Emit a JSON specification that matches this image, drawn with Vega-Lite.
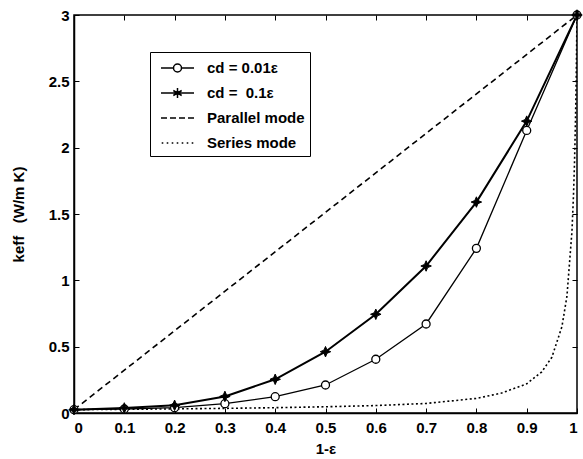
{
  "$schema": "https://vega.github.io/schema/vega-lite/v6.json",
  "width": 503,
  "height": 398,
  "autosize": {"type": "none"},
  "padding": {"left": 74, "top": 15, "right": 6, "bottom": 46},
  "background": "white",
  "config": {
    "font": "Liberation Sans",
    "view": {"stroke": "black", "strokeWidth": 1.5},
    "axis": {
      "domainColor": "black", "domainWidth": 1.5, "tickColor": "black", "tickWidth": 1,
      "labelColor": "black", "labelFont": "Liberation Sans", "labelFontSize": 15, "labelFontWeight": "bold",
      "titleColor": "black", "titleFont": "Liberation Sans", "titleFontSize": 15, "titleFontWeight": "bold",
      "grid": false
    }
  },
  "datasets": {
    "d": [
      {"series": "cd = 0.01ε", "x": 0, "k": 0.025},
      {"series": "cd = 0.01ε", "x": 0.1, "k": 0.03},
      {"series": "cd = 0.01ε", "x": 0.2, "k": 0.04},
      {"series": "cd = 0.01ε", "x": 0.3, "k": 0.07},
      {"series": "cd = 0.01ε", "x": 0.4, "k": 0.123},
      {"series": "cd = 0.01ε", "x": 0.5, "k": 0.211},
      {"series": "cd = 0.01ε", "x": 0.6, "k": 0.405},
      {"series": "cd = 0.01ε", "x": 0.7, "k": 0.671},
      {"series": "cd = 0.01ε", "x": 0.8, "k": 1.241},
      {"series": "cd = 0.01ε", "x": 0.9, "k": 2.13},
      {"series": "cd = 0.01ε", "x": 1, "k": 3.0},
      {"series": "cd =  0.1ε", "x": 0, "k": 0.025},
      {"series": "cd =  0.1ε", "x": 0.1, "k": 0.038},
      {"series": "cd =  0.1ε", "x": 0.2, "k": 0.058},
      {"series": "cd =  0.1ε", "x": 0.3, "k": 0.125},
      {"series": "cd =  0.1ε", "x": 0.4, "k": 0.254},
      {"series": "cd =  0.1ε", "x": 0.5, "k": 0.462},
      {"series": "cd =  0.1ε", "x": 0.6, "k": 0.744},
      {"series": "cd =  0.1ε", "x": 0.7, "k": 1.108},
      {"series": "cd =  0.1ε", "x": 0.8, "k": 1.59},
      {"series": "cd =  0.1ε", "x": 0.9, "k": 2.2},
      {"series": "cd =  0.1ε", "x": 1, "k": 3.0},
      {"series": "Parallel mode", "x": 0, "k": 0.025},
      {"series": "Parallel mode", "x": 1, "k": 3.0},
      {"series": "Series mode", "x": 0, "k": 0.025},
      {"series": "Series mode", "x": 0.1, "k": 0.028},
      {"series": "Series mode", "x": 0.2, "k": 0.031},
      {"series": "Series mode", "x": 0.3, "k": 0.035},
      {"series": "Series mode", "x": 0.4, "k": 0.04},
      {"series": "Series mode", "x": 0.5, "k": 0.047},
      {"series": "Series mode", "x": 0.6, "k": 0.056},
      {"series": "Series mode", "x": 0.7, "k": 0.072},
      {"series": "Series mode", "x": 0.8, "k": 0.11},
      {"series": "Series mode", "x": 0.85, "k": 0.15},
      {"series": "Series mode", "x": 0.9, "k": 0.22},
      {"series": "Series mode", "x": 0.93, "k": 0.31},
      {"series": "Series mode", "x": 0.95, "k": 0.42},
      {"series": "Series mode", "x": 0.97, "k": 0.65},
      {"series": "Series mode", "x": 0.98, "k": 0.88},
      {"series": "Series mode", "x": 0.99, "k": 1.37},
      {"series": "Series mode", "x": 0.993, "k": 1.64},
      {"series": "Series mode", "x": 0.995, "k": 1.88},
      {"series": "Series mode", "x": 0.997, "k": 2.21},
      {"series": "Series mode", "x": 0.998, "k": 2.42},
      {"series": "Series mode", "x": 0.999, "k": 2.68},
      {"series": "Series mode", "x": 1, "k": 3.0}
    ]
  },
  "resolve": {"axis": {"x": "independent", "y": "independent"}},
  "layer": [
    {
      "data": {"name": "d"},
      "transform": [{"filter": "datum.series === 'Parallel mode'"}],
      "mark": {"type": "line", "color": "black", "strokeWidth": 1.6, "strokeDash": [6, 4], "clip": true},
      "encoding": {
        "x": {
          "field": "x", "type": "quantitative",
          "scale": {"domain": [0, 1], "nice": false, "zero": false},
          "axis": {"values": [0, 0.1, 0.2, 0.3, 0.4, 0.5, 0.6, 0.7, 0.8, 0.9, 1], "format": "~g", "tickSize": -5, "labelPadding": 12, "title": "1-ε", "titlePadding": 6}
        },
        "y": {
          "field": "k", "type": "quantitative",
          "scale": {"domain": [0, 3], "nice": false},
          "axis": {"values": [0, 0.5, 1, 1.5, 2, 2.5, 3], "format": "~g", "tickSize": -5, "labelPadding": 10, "title": "keff\u00a0\u00a0\u00a0(W/m K)", "titlePadding": 22}
        }
      }
    },
    {
      "data": {"name": "d"},
      "transform": [{"filter": "datum.series === 'Series mode'"}],
      "mark": {"type": "line", "color": "black", "strokeWidth": 1.6, "strokeDash": [2, 2.5], "clip": true},
      "encoding": {
        "x": {"field": "x", "type": "quantitative", "axis": null},
        "y": {"field": "k", "type": "quantitative", "axis": null}
      }
    },
    {
      "data": {"name": "d"},
      "transform": [{"filter": "datum.series === 'cd = 0.01ε'"}],
      "mark": {"type": "line", "color": "black", "strokeWidth": 1.3, "clip": true},
      "encoding": {
        "x": {"field": "x", "type": "quantitative", "axis": null},
        "y": {"field": "k", "type": "quantitative", "axis": null}
      }
    },
    {
      "data": {"name": "d"},
      "transform": [{"filter": "datum.series === 'cd =  0.1ε'"}],
      "mark": {"type": "line", "color": "black", "strokeWidth": 2, "clip": true},
      "encoding": {
        "x": {"field": "x", "type": "quantitative", "axis": null},
        "y": {"field": "k", "type": "quantitative", "axis": null}
      }
    },
    {
      "data": {"name": "d"},
      "transform": [{"filter": "datum.series === 'cd = 0.01ε'"}],
      "mark": {"type": "point", "shape": "circle", "size": 64, "filled": true, "fill": "white", "stroke": "black", "strokeWidth": 1.3, "opacity": 1},
      "encoding": {
        "x": {"field": "x", "type": "quantitative", "axis": null},
        "y": {"field": "k", "type": "quantitative", "axis": null}
      }
    },
    {
      "data": {"name": "d"},
      "transform": [{"filter": "datum.series === 'cd =  0.1ε'"}],
      "mark": {"type": "point", "shape": "M0,-1L0.3,-0.3L1,0L0.3,0.3L0,1L-0.3,0.3L-1,0L-0.3,-0.3Z", "size": 110, "filled": true, "fill": "black", "stroke": "black", "strokeWidth": 1, "opacity": 1},
      "encoding": {
        "x": {"field": "x", "type": "quantitative", "axis": {"orient": "top", "values": [0, 0.1, 0.2, 0.3, 0.4, 0.5, 0.6, 0.7, 0.8, 0.9, 1], "labels": false, "title": null, "domain": false, "tickSize": -5}},
        "y": {"field": "k", "type": "quantitative", "axis": {"orient": "right", "values": [0, 0.5, 1, 1.5, 2, 2.5, 3], "labels": false, "title": null, "domain": false, "tickSize": -5}}
      }
    },
    {
      "data": {"values": [
        {"series": "cd = 0.01ε", "x": -1, "k": -1},
        {"series": "cd =\u00a0\u00a00.1ε", "x": -1, "k": -1},
        {"series": "Parallel mode", "x": -1, "k": -1},
        {"series": "Series mode", "x": -1, "k": -1}
      ]},
      "mark": {"type": "point", "filled": false, "stroke": "black", "strokeWidth": 1.5, "opacity": 1, "clip": true},
      "encoding": {
        "x": {"field": "x", "type": "quantitative", "axis": null},
        "y": {"field": "k", "type": "quantitative", "axis": null},
        "shape": {
          "field": "series", "type": "nominal",
          "scale": {
            "domain": ["cd = 0.01ε", "cd =\u00a0\u00a00.1ε", "Parallel mode", "Series mode"],
            "range": [
              "M-1.65,0L-0.4,0M0.4,0L1.65,0M-0.4,0A0.4,0.4,0,1,1,0.4,0A0.4,0.4,0,1,1,-0.4,0Z",
              "M-1.65,0L1.65,0M0,-0.5L0,0.5M-0.42,-0.25L0.42,0.25M-0.42,0.25L0.42,-0.25M-0.15,-0.15L0.15,0.15M-0.15,0.15L0.15,-0.15",
              "M-1.65,0L-1.05,0M-0.75,0L-0.15,0M0.15,0L0.75,0M1.05,0L1.65,0",
              "M-1.58,0L-1.42,0M-1.08,0L-0.92,0M-0.58,0L-0.42,0M-0.08,0L0.08,0M0.42,0L0.58,0M0.92,0L1.08,0M1.42,0L1.58,0"
            ]
          },
          "legend": {
            "orient": "none", "legendX": 76, "legendY": 37, "title": null,
            "strokeColor": "black", "fillColor": "white", "padding": 5,
            "symbolSize": 400, "symbolStrokeWidth": 1.5, "symbolStrokeColor": "black", "symbolOpacity": 1,
            "symbolOffset": 11.5,
            "labelFont": "Liberation Sans", "labelFontSize": 15, "labelFontWeight": "bold", "labelColor": "black",
            "labelOffset": 18.5, "rowPadding": 6
          }
        }
      }
    }
  ]
}
